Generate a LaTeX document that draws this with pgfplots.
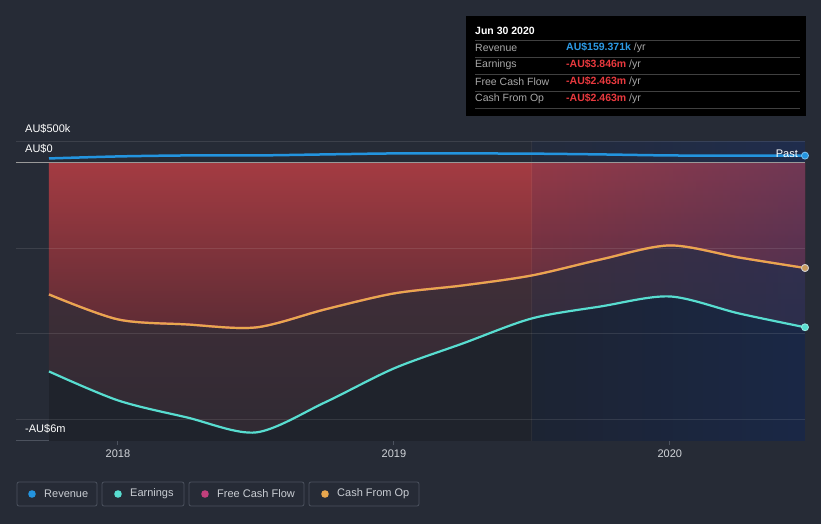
\documentclass[border=0pt]{standalone}
\usepackage{pgfplots}
\pgfplotsset{compat=1.18}
\usetikzlibrary{fadings}
\usepackage{fontspec}
\setmainfont{Liberation Sans}
\definecolor{bg}{HTML}{262B36}
\definecolor{plotdark}{HTML}{1F232C}
\definecolor{axisgray}{HTML}{4C525E}
\definecolor{labelgray}{HTML}{D2D5DA}
\definecolor{revc}{HTML}{2394DF}
\definecolor{earnc}{HTML}{58DDD0}
\definecolor{cfoc}{HTML}{E8A74E}
\definecolor{fcfc}{HTML}{C2407C}
\definecolor{redtop}{HTML}{A43B42}
\definecolor{redbot}{HTML}{5E2C35}
\definecolor{mtop}{HTML}{4A313B}
\definecolor{mbot}{HTML}{302A33}
\definecolor{ovl}{HTML}{143278}
\definecolor{tipgray}{HTML}{A8A8A8}
\definecolor{tipred}{HTML}{E8393E}
\definecolor{tipblue}{HTML}{2D9BE6}
\definecolor{legtext}{HTML}{C9CDD3}
\pgfplotstableread{
x y
2017.75 0.093
2018.00 0.140
2018.25 0.163
2018.50 0.163
2018.75 0.187
2019.00 0.210
2019.25 0.210
2019.50 0.205
2019.75 0.187
2020.00 0.163
2020.25 0.160
2020.49 0.159
}\revenue
\pgfplotstableread{
x y
2017.75 -4.877
2018.00 -5.553
2018.25 -5.950
2018.50 -6.300
2018.75 -5.600
2019.00 -4.807
2019.25 -4.223
2019.50 -3.640
2019.75 -3.360
2020.00 -3.127
2020.25 -3.523
2020.49 -3.846
}\earnings
\pgfplotstableread{
x y
2017.75 -3.080
2018.00 -3.663
2018.25 -3.780
2018.50 -3.850
2018.75 -3.430
2019.00 -3.057
2019.25 -2.870
2019.50 -2.637
2019.75 -2.263
2020.00 -1.937
2020.25 -2.217
2020.49 -2.463
}\cfo
\pgfplotstableread{
x y
2017.75 -3.080
2018.00 -3.663
2018.25 -3.780
2018.50 -3.850
2018.75 -3.430
2019.00 -3.057
2019.25 -2.870
2019.50 -2.637
2019.75 -2.263
2020.00 -1.937
2020.25 -2.217
2020.49 -2.463
}\fcf
\begin{document}
\begin{tikzpicture}
\begin{scope}[x=1pt,y=1pt]
\fill[bg] (0,0) rectangle (821,524);
\end{scope}
\begin{axis}[
  at={(16pt,83pt)}, anchor=south west, scale only axis,
  width=789pt, height=300pt,
  xmin=2017.6304, xmax=2020.49, ymin=-6.5, ymax=0.5,
  axis x line*=bottom, axis y line=none,
  x axis line style={-, draw=axisgray, line width=1pt},
  xtick={2018,2019,2020}, xticklabels={2018,2019,2020},
  tick align=outside, major tick length=4pt,
  xtick style={draw=axisgray, line width=1pt},
  ytick=\empty,
  ticklabel style={font=\fontsize{11}{13}\selectfont, text=labelgray},
  xticklabel style={yshift=-1pt},
  /pgf/number format/assume math mode=true,
  clip=false,
]
\fill[plotdark] (axis cs:2017.75,-6.5) rectangle (axis cs:2020.49,0);
\addplot[draw=none, top color=mtop, bottom color=mbot, smooth, tension=0.5] table[x=x,y=y] {\earnings} \closedcycle;
\addplot[draw=none, top color=redtop, bottom color=redbot, smooth, tension=0.5] table[x=x,y=y] {\cfo} \closedcycle;
\fill[ovl, fill opacity=0.1] (axis cs:2019.5,-6.5) rectangle (axis cs:2020.49,0.5);
\fill[ovl, fill opacity=0.28, path fading=west] (axis cs:2019.5,-6.5) rectangle (axis cs:2020.49,0.5);
\draw[white, opacity=0.05, line width=0.8pt] (axis cs:2019.5,-6.5) -- (axis cs:2019.5,0.5);
\draw[white, opacity=0.1, line width=1pt] (axis cs:2017.6304,-6) -- (axis cs:2020.49,-6);
\draw[white, opacity=0.1, line width=1pt] (axis cs:2017.6304,-4) -- (axis cs:2020.49,-4);
\draw[white, opacity=0.1, line width=1pt] (axis cs:2017.6304,-2) -- (axis cs:2020.49,-2);
\draw[white, opacity=0.1, line width=1pt] (axis cs:2017.6304,0.5) -- (axis cs:2020.49,0.5);
\draw[gray!80, line width=1.5pt] (axis cs:2017.6304,0) -- (axis cs:2020.49,0);
\addplot[fcfc, line width=2.2pt, smooth, tension=0.5, mark=*, mark indices={12}, mark size=3.5pt, mark options={fill=fcfc, draw=gray!40, line width=0.8pt}] table[x=x,y=y] {\fcf};
\addplot[cfoc, line width=2.2pt, smooth, tension=0.5, mark=*, mark indices={12}, mark size=3.5pt, mark options={fill=cfoc!70!gray, draw=gray!40, line width=0.8pt}] table[x=x,y=y] {\cfo};
\addplot[earnc, line width=2.2pt, smooth, tension=0.5, mark=*, mark indices={12}, mark size=3.5pt, mark options={fill=earnc, draw=earnc!60!white, line width=0.8pt}] table[x=x,y=y] {\earnings};
\addplot[revc, line width=2.5pt, smooth, tension=0.5, mark=*, mark indices={12}, mark size=3.5pt, mark options={fill=revc, draw=revc!60!white, line width=0.8pt}] table[x=x,y=y] {\revenue};
\node[anchor=east, text=white, font=\fontsize{11}{13}\selectfont, inner sep=0pt] at (axis cs:2020.49,0.21) [xshift=-7pt] {Past};
\end{axis}
\begin{scope}[x=1pt,y=1pt]
% y labels
\node[anchor=west, text=white, font=\fontsize{11}{13}\selectfont, inner sep=0pt] at (25,395) {AU\$500k};
\node[anchor=west, text=white, font=\fontsize{11}{13}\selectfont, inner sep=0pt] at (25,375) {AU\$0};
\node[anchor=west, text=white, font=\fontsize{11}{13}\selectfont, inner sep=0pt] at (25,95) {-AU\$6m};
% tooltip
\fill[black] (466,508) rectangle (806,408);
\node[anchor=west, text=white, font=\fontsize{10.5}{12}\selectfont\bfseries, inner sep=0pt] at (475,493) {Jun 30 2020};
\foreach \yy in {484,467,450,433,416} { \draw[white!25!black, line width=0.8pt] (475,\yy) -- (800,\yy); }
\node[anchor=west, text=tipgray, font=\fontsize{10.5}{12}\selectfont, inner sep=0pt] at (475,476) {Revenue};
\node[anchor=west, text=tipgray, font=\fontsize{10.5}{12}\selectfont, inner sep=0pt] at (475,459) {Earnings};
\node[anchor=west, text=tipgray, font=\fontsize{10.5}{12}\selectfont, inner sep=0pt] at (475,442) {Free Cash Flow};
\node[anchor=west, text=tipgray, font=\fontsize{10.5}{12}\selectfont, inner sep=0pt] at (475,425) {Cash From Op};
\node[anchor=west, font=\fontsize{10.5}{12}\selectfont, inner sep=0pt] at (566,476) {\textcolor{tipblue}{\bfseries AU\$159.371k} \textcolor{tipgray}{/yr}};
\node[anchor=west, font=\fontsize{10.5}{12}\selectfont, inner sep=0pt] at (566,459) {\textcolor{tipred}{\bfseries -AU\$3.846m} \textcolor{tipgray}{/yr}};
\node[anchor=west, font=\fontsize{10.5}{12}\selectfont, inner sep=0pt] at (566,442) {\textcolor{tipred}{\bfseries -AU\$2.463m} \textcolor{tipgray}{/yr}};
\node[anchor=west, font=\fontsize{10.5}{12}\selectfont, inner sep=0pt] at (566,425) {\textcolor{tipred}{\bfseries -AU\$2.463m} \textcolor{tipgray}{/yr}};
% legend
\draw[axisgray, line width=0.8pt, rounded corners=2pt] (17,18) rectangle (97,42);
\draw[axisgray, line width=0.8pt, rounded corners=2pt] (102,18) rectangle (184,42);
\draw[axisgray, line width=0.8pt, rounded corners=2pt] (189,18) rectangle (304,42);
\draw[axisgray, line width=0.8pt, rounded corners=2pt] (309,18) rectangle (419,42);
\fill[revc] (32,30) circle (3.8);
\fill[earnc] (118,30) circle (3.8);
\fill[fcfc] (205,30) circle (3.8);
\fill[cfoc] (325,30) circle (3.8);
\node[anchor=west, text=legtext, font=\fontsize{11}{13}\selectfont, inner sep=0pt] at (44,30) {Revenue};
\node[anchor=west, text=legtext, font=\fontsize{11}{13}\selectfont, inner sep=0pt] at (130,30) {Earnings};
\node[anchor=west, text=legtext, font=\fontsize{11}{13}\selectfont, inner sep=0pt] at (217,30) {Free Cash Flow};
\node[anchor=west, text=legtext, font=\fontsize{11}{13}\selectfont, inner sep=0pt] at (337,30) {Cash From Op};
\end{scope}
\end{tikzpicture}
\end{document}
